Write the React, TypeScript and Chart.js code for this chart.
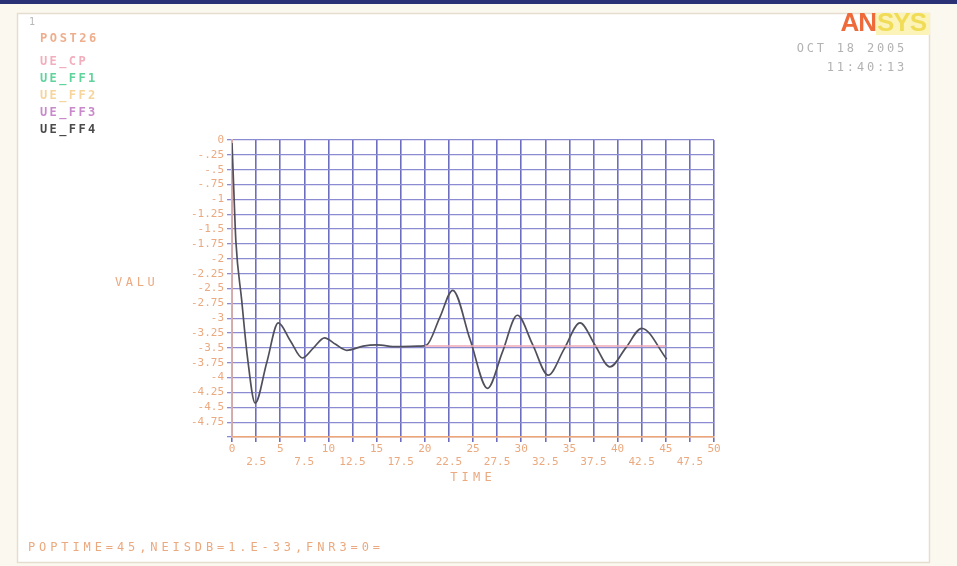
import { useEffect, useRef } from "react";
import { Chart, registerables } from "chart.js";

Chart.register(...registerables);

// Time history of UE_FF4 (dark trace): extremes and the crossings between them
const TIME_FF4 = [0, 0.2, 0.4, 1.0, 1.6, 2.4, 3.6, 4.8, 6.05, 7.3, 8.45, 9.6, 10.75, 11.9, 13.6, 15.0, 17.1, 19.5, 20.2, 21.55, 22.9, 24.7, 26.5, 28.05, 29.6, 31.2, 32.8, 34.45, 36.1, 37.65, 39.2, 40.85, 42.5, 45.1];
const VALUE_FF4 = [-0.05, -0.9, -1.7, -2.69, -3.65, -4.43, -3.75, -3.08, -3.38, -3.67, -3.5, -3.33, -3.44, -3.54, -3.47, -3.45, -3.48, -3.47, -3.45, -2.99, -2.53, -3.36, -4.18, -3.57, -2.95, -3.45, -3.96, -3.52, -3.08, -3.45, -3.82, -3.5, -3.17, -3.69];

// Time history of UE_CP (flat trace)
const TIME_CP = [20.0, 45.0];
const VALUE_CP = [-3.47, -3.47];

const X_TICKS = [0, 2.5, 5, 7.5, 10, 12.5, 15, 17.5, 20, 22.5, 25, 27.5, 30, 32.5, 35, 37.5, 40, 42.5, 45, 47.5, 50];
const Y_TICKS = [0, -0.25, -0.5, -0.75, -1, -1.25, -1.5, -1.75, -2, -2.25, -2.5, -2.75, -3, -3.25, -3.5, -3.75, -4, -4.25, -4.5, -4.75, -5];

const LEGEND_TITLE = "POST26";
const LEGEND_LABELS = ["UE_CP", "UE_FF1", "UE_FF2", "UE_FF3", "UE_FF4"];
const LEGEND_COLORS = ["#f2aebd", "#5fd39c", "#f6d49c", "#c98acb", "#4a4a4a"];
const WINDOW_NUMBER = "1";
const DATE_TEXT = "OCT 18 2005";
const TIME_TEXT = "11:40:13";
const FOOTER_TEXT = "POPTIME=45,NEISDB=1.E-33,FNR3=0=";
const Y_TITLE = "VALU";
const X_TITLE = "TIME";

const W = 957;
const H = 566;
const PLOT = { left: 232, right: 714, top: 140, bottom: 437 };
const LABEL_COLOR = "#eba97f";
const MONO = "'DejaVu Sans Mono', monospace";

function fmtValue(v: number): string {
  if (v === 0) return "0";
  if (v <= -5) return "";
  const s = String(Math.abs(v)).replace(/^0\./, ".");
  return (v < 0 ? "-" : "") + s;
}

function text(
  ctx: CanvasRenderingContext2D,
  s: string,
  x: number,
  y: number,
  color: string,
  font: string,
  spacing: number,
  align: CanvasTextAlign = "left"
) {
  ctx.save();
  ctx.font = font;
  (ctx as any).letterSpacing = `${spacing}px`;
  ctx.fillStyle = color;
  ctx.textAlign = align;
  ctx.textBaseline = "middle";
  ctx.fillText(s, x, y);
  ctx.restore();
}

const frame = {
  id: "frame",
  beforeDraw(chart: Chart) {
    const ctx = chart.ctx;
    ctx.save();
    ctx.fillStyle = "#fbf8ef";
    ctx.fillRect(0, 0, W, H);
    ctx.fillStyle = "#2a3174";
    ctx.fillRect(0, 0, W, 4);
    ctx.fillStyle = "#ffffff";
    ctx.fillRect(17, 13, 913, 550);
    ctx.strokeStyle = "#e7ddcf";
    ctx.lineWidth = 1.5;
    ctx.strokeRect(17.5, 13.5, 912, 549);
    ctx.restore();
  },
  afterDraw(chart: Chart) {
    const ctx = chart.ctx;
    const area = chart.chartArea;
    text(ctx, WINDOW_NUMBER, 29, 22, "#b8b8b8", `10px ${MONO}`, 0);
    text(ctx, LEGEND_TITLE, 40, 39, "#eeae8c", `bold 12px ${MONO}`, 2.6);
    LEGEND_LABELS.forEach((lab, i) => {
      text(ctx, lab, 40, 62 + i * 17, LEGEND_COLORS[i], `bold 12px ${MONO}`, 2.4);
    });

    // logo
    ctx.save();
    ctx.fillStyle = "#fbf3b8";
    ctx.fillRect(876, 13, 54, 22);
    ctx.restore();
    text(ctx, "AN", 876, 24, "#ee6a3a", "bold 26px 'Liberation Sans', sans-serif", -1, "right");
    text(ctx, "SYS", 877, 24, "#f1dc58", "bold 26px 'Liberation Sans', sans-serif", -1, "left");

    text(ctx, DATE_TEXT, 907, 49, "#b2b2b2", `12px ${MONO}`, 2.8, "right");
    text(ctx, TIME_TEXT, 907, 68, "#b2b2b2", `12px ${MONO}`, 2.8, "right");

    text(ctx, Y_TITLE, 115, 283, LABEL_COLOR, `12px ${MONO}`, 3.6);
    text(ctx, X_TITLE, (area.left + area.right) / 2, 478, LABEL_COLOR, `12px ${MONO}`, 4.2, "center");
    text(ctx, FOOTER_TEXT, 28, 548, LABEL_COLOR, `12px ${MONO}`, 3.9);
  },
};

export default function App() {
  const ref = useRef<HTMLCanvasElement | null>(null);

  useEffect(() => {
    if (!ref.current) return;
    const chart = new Chart(ref.current, {
      type: "line",
      data: {
        datasets: [
          {
            label: "UE_CP",
            data: TIME_CP.map((t, i) => ({ x: t, y: VALUE_CP[i] })),
            borderColor: "#f0a9b6",
            borderWidth: 1.5,
            pointRadius: 0,
          },
          {
            label: "UE_FF4",
            data: TIME_FF4.map((t, i) => ({ x: t, y: VALUE_FF4[i] })),
            borderColor: "#50505c",
            borderWidth: 1.7,
            pointRadius: 0,
            cubicInterpolationMode: "monotone",
          },
        ],
      },
      options: {
        animation: false,
        responsive: false,
        devicePixelRatio: 1,
        layout: {
          padding: { left: 0, top: PLOT.top, right: W - PLOT.right, bottom: 0 },
        },
        plugins: { legend: { display: false }, tooltip: { enabled: false } },
        scales: {
          x: {
            type: "linear",
            min: 0,
            max: 50,
            afterBuildTicks: (s: any) => {
              s.ticks = X_TICKS.map((value) => ({ value }));
            },
            afterFit: (s: any) => {
              s.height = H - PLOT.bottom;
            },
            grid: { color: "#6d6dbf", lineWidth: 1.6, tickLength: 5 },
            border: { color: "#f0a577", width: 1.6 },
            ticks: {
              autoSkip: false,
              maxRotation: 0,
              padding: 1,
              color: LABEL_COLOR,
              font: { family: MONO, size: 11, lineHeight: 1.15 },
              callback: (v: any, i: number) => {
                const s = String(v);
                return i % 2 === 0 ? s : ["", s];
              },
            },
          },
          y: {
            type: "linear",
            min: -5,
            max: 0,
            afterBuildTicks: (s: any) => {
              s.ticks = Y_TICKS.map((value) => ({ value }));
            },
            afterFit: (s: any) => {
              s.width = PLOT.left;
            },
            grid: { color: "#8b8bd2", lineWidth: 1.3, tickLength: 5 },
            border: { color: "#f0a98a", width: 1.6 },
            ticks: {
              autoSkip: false,
              padding: 3,
              color: LABEL_COLOR,
              font: { family: MONO, size: 11 },
              callback: (v: any) => fmtValue(Number(v)),
            },
          },
        },
      },
      plugins: [frame],
    });
    return () => chart.destroy();
  }, []);

  return (
    <div style={{ position: "fixed", left: 0, top: 0, width: W, height: H }}>
      <canvas ref={ref} width={W} height={H} style={{ display: "block", width: W, height: H }} />
    </div>
  );
}
